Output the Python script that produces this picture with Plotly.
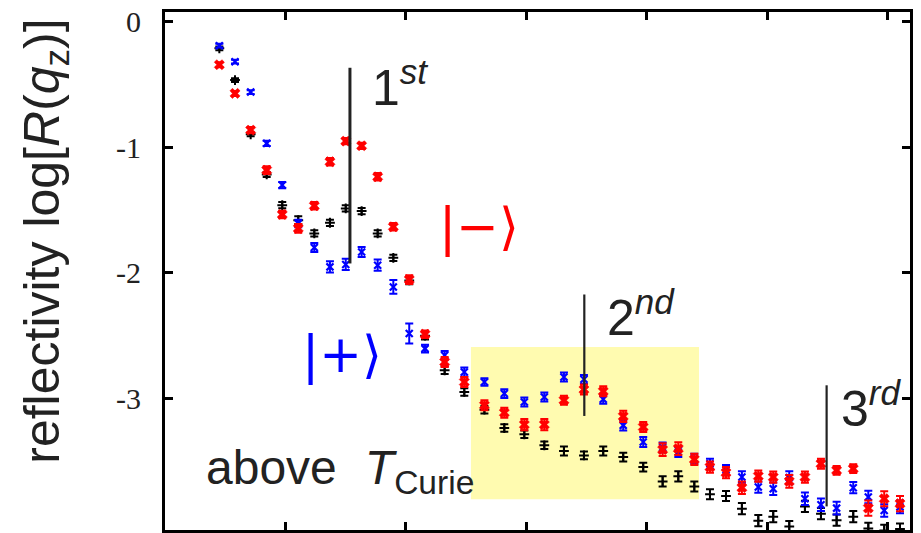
import plotly.graph_objects as go

# q_z positions (arbitrary axis units, ticks every 1 unit, no labels)
qz = [0.451, 0.581, 0.711, 0.844, 0.973, 1.106, 1.239, 1.369, 1.500, 1.632,
      1.765, 1.895, 2.027, 2.158, 2.321, 2.484, 2.651, 2.816, 2.982, 3.148,
      3.311, 3.477, 3.637, 3.803, 3.969, 4.130, 4.260, 4.393, 4.523, 4.656,
      4.788, 4.924, 5.048, 5.181, 5.311, 5.444, 5.574, 5.712, 5.837, 5.969, 6.100]

plus_state = [-0.191, -0.319, -0.560, -0.969, -1.301, -1.606, -1.798, -1.952, -1.933, -1.833,
              -1.939, -2.112, -2.483, -2.603, -2.656, -2.789, -2.869, -2.961, -3.028, -2.988,
              -2.829, -2.847, -3.006, -3.214, -3.347, -3.390, -3.426, -3.480, -3.520, -3.570,
              -3.625, -3.705, -3.718, -3.630, -3.798, -3.846, -3.873, -3.710, -3.785, -3.891, -3.863]
plus_err = [0.015, 0.015, 0.015, 0.02, 0.025, 0.03, 0.035, 0.045, 0.045, 0.04,
            0.045, 0.055, 0.08, 0.03, 0.035, 0.035, 0.03, 0.035, 0.035, 0.035,
            0.035, 0.035, 0.035, 0.04, 0.04, 0.04, 0.04, 0.04, 0.04, 0.04,
            0.045, 0.045, 0.05, 0.05, 0.05, 0.05, 0.05, 0.045, 0.05, 0.05, 0.05]

minus_state = [-0.343, -0.571, -0.863, -1.182, -1.535, -1.646, -1.466, -1.115, -0.951, -0.988,
               -1.235, -1.633, -2.053, -2.488, -2.709, -2.869, -3.054, -3.113, -3.208, -3.208,
               -3.014, -2.929, -2.943, -3.142, -3.227, -3.407, -3.399, -3.485, -3.546, -3.590,
               -3.710, -3.618, -3.626, -3.660, -3.626, -3.519, -3.572, -3.559, -3.873, -3.798, -3.837]
minus_err = [0.02, 0.02, 0.025, 0.03, 0.03, 0.035, 0.03, 0.03, 0.025, 0.025,
             0.03, 0.03, 0.035, 0.03, 0.04, 0.04, 0.04, 0.04, 0.045, 0.045,
             0.035, 0.04, 0.04, 0.045, 0.04, 0.05, 0.05, 0.045, 0.045, 0.045,
             0.05, 0.045, 0.045, 0.05, 0.045, 0.04, 0.035, 0.035, 0.06, 0.06, 0.06]

above_tc = [-0.212, -0.465, -0.897, -1.216, -1.461, -1.580, -1.686, -1.601, -1.487, -1.508,
            -1.686, -1.880, -2.060, -2.500, -2.775, -2.948, -3.089, -3.235, -3.285, -3.373,
            -3.418, -3.453, -3.418, -3.466, -3.546, -3.660, -3.620, -3.700, -3.763, -3.777,
            -3.877, -3.973, -3.941, -4.020, -3.859, -3.917, -3.969, -3.941, -4.035, -4.050, -4.040]
above_err = [0.015, 0.015, 0.015, 0.02, 0.025, 0.03, 0.025, 0.025, 0.025, 0.025,
             0.025, 0.025, 0.03, 0.03, 0.03, 0.03, 0.03, 0.03, 0.03, 0.03,
             0.035, 0.03, 0.035, 0.035, 0.035, 0.04, 0.04, 0.04, 0.04, 0.04,
             0.045, 0.045, 0.045, 0.045, 0.045, 0.045, 0.045, 0.045, 0.045, 0.045, 0.045]

y_tickvals = [0, -1, -2, -3]
y_ticktext = ["0", "-1", "-2", "-3"]
x_tickvals = [0, 1, 2, 3, 4, 5, 6]

fig = go.Figure()

def add_series(y, err, color, symbol, size, lw):
    fig.add_trace(go.Scatter(
        x=qz, y=y, mode="markers",
        marker=dict(symbol=symbol, size=size, color=color,
                    line=dict(color=color, width=lw)),
        error_y=dict(type="data", array=err, visible=True,
                     color=color, thickness=2, width=4),
        showlegend=False, cliponaxis=True))

add_series(above_tc, above_err, "black", "cross-thin", 7, 2)
add_series(plus_state, plus_err, "#0000ff", "x-thin", 7, 2.2)
add_series(minus_state, minus_err, "#ff0000", "x", 9, 0.5)

# highlighted region
fig.add_shape(type="rect", xref="x", yref="y", x0=2.539, x1=4.432, y0=-3.803, y1=-2.590,
              fillcolor="#fffbb0", line=dict(width=0), layer="below")

# order markers
for x0, y0, y1, w in [(1.535, -0.367, -1.925, 3), (3.480, -2.172, -3.139, 2.2), (5.491, -2.895, -3.859, 2.2)]:
    fig.add_shape(type="line", xref="x", yref="y", x0=x0, x1=x0, y0=y0, y1=y1,
                  line=dict(color="#222222", width=w))

ann_font = dict(family="Liberation Sans", size=50, color="#222222")
for txt, ax, ay in [("1<sup><i>st</i></sup>", 1.701, -0.500),
                    ("2<sup><i>nd</i></sup>", 3.650, -2.330),
                    ("3<sup><i>rd</i></sup>", 5.593, -3.054)]:
    fig.add_annotation(x=ax, y=ay, xref="x", yref="y", text=txt, showarrow=False,
                       xanchor="left", yanchor="middle", font=ann_font)

fig.add_annotation(x=2.606, y=-1.636, xref="x", yref="y", text="|−⟩", showarrow=False,
                   xanchor="center", yanchor="middle",
                   font=dict(family="DejaVu Sans", size=51, color="#ff0000"))
fig.add_annotation(x=1.469, y=-2.656, xref="x", yref="y", text="|+⟩", showarrow=False,
                   xanchor="center", yanchor="middle",
                   font=dict(family="DejaVu Sans", size=51, color="#0000ff"))

fig.add_annotation(x=0.324, y=-3.580, xref="x", yref="y",
                   text="above\u2002\u200a<i>T</i><sub>Curie</sub>", showarrow=False,
                   xanchor="left", yanchor="middle",
                   font=dict(family="Liberation Sans", size=48, color="#222222"))

fig.add_annotation(x=-0.160, y=0.558, xref="paper", yref="paper",
                   text="reflectivity log[<i>R</i>(<i>q</i><sub>z</sub>)]", showarrow=False,
                   textangle=-90, xanchor="center", yanchor="middle",
                   font=dict(family="Liberation Sans", size=50, color="#222222"))

fig.update_xaxes(range=[0, 6.183], tickvals=x_tickvals, showticklabels=False,
                 ticks="inside", ticklen=8, tickwidth=3, tickcolor="black",
                 showline=True, linewidth=3, linecolor="black", mirror="allticks",
                 showgrid=False, zeroline=False)
fig.update_yaxes(range=[-4.047, 0.077], tickvals=y_tickvals, ticktext=y_ticktext,
                 ticks="inside", ticklen=8, tickwidth=3, tickcolor="black",
                 ticklabelstandoff=15,
                 tickfont=dict(family="Liberation Serif", size=30, color="#222222"),
                 showline=True, linewidth=3, linecolor="black", mirror="allticks",
                 showgrid=False, zeroline=False)

fig.update_layout(width=921, height=533, margin=dict(l=165, r=11, t=12, b=3),
                  plot_bgcolor="white", paper_bgcolor="white")

fig.write_html("out.html")
